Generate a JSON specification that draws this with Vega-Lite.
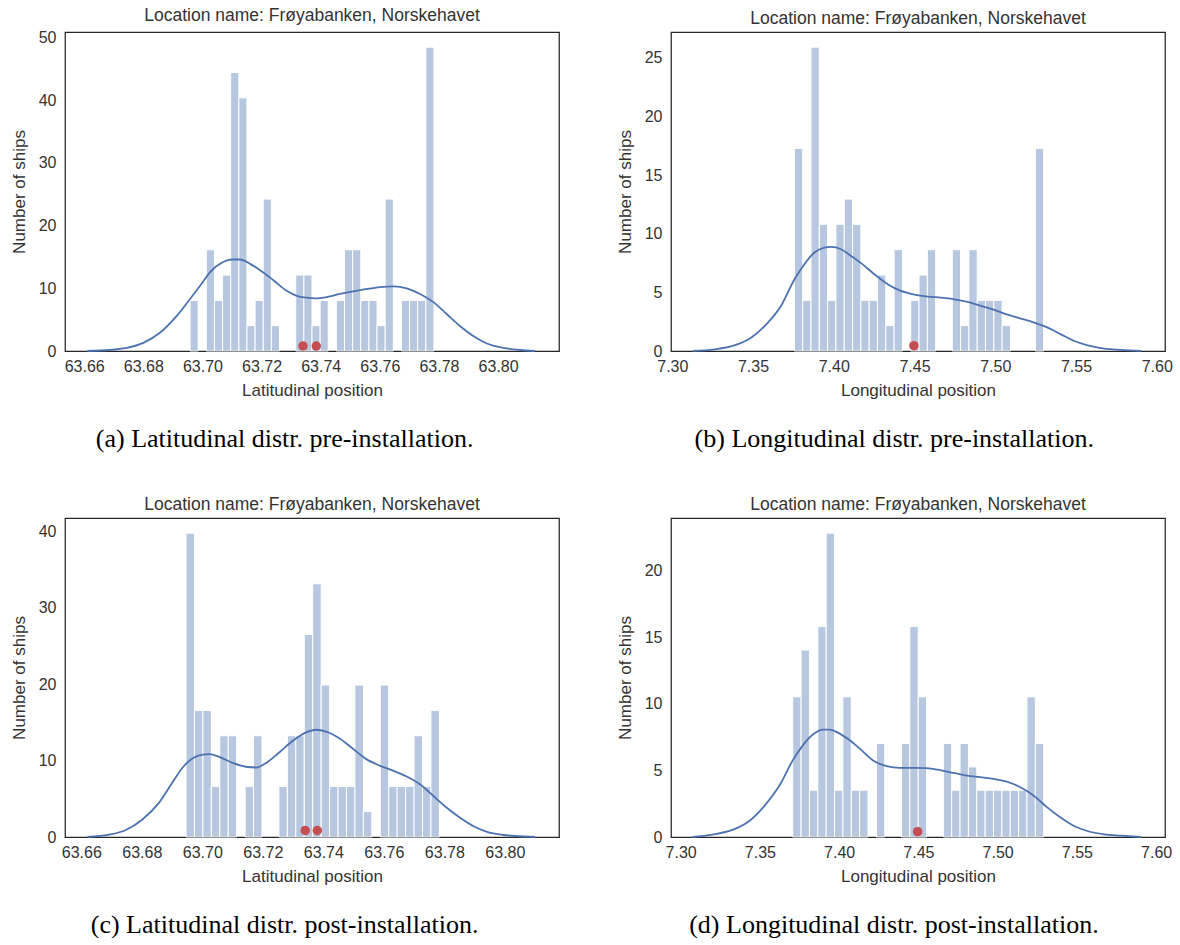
{
  "$schema": "https://vega.github.io/schema/vega-lite/v6.json",
  "background": "white",
  "padding": {"left": 9, "top": 6, "right": 5, "bottom": 5},
  "config": {
    "font": "Liberation Sans",
    "view": {"stroke": "#262626", "strokeWidth": 1.25},
    "axis": {"grid": false, "ticks": false, "domain": false, "labelFontSize": 16, "titleFontSize": 17, "labelColor": "#333333", "titleColor": "#333333", "titleFontWeight": "normal", "labelPadding": 7, "titlePadding": 8, "labelOverlap": false, "labelFlush": false, "labelBound": false, "labelFont": "Liberation Sans", "titleFont": "Liberation Sans"},
    "axisY": {"labelPadding": 9, "titlePadding": 10},
    "title": {"fontSize": 17.5, "fontWeight": "normal", "color": "#333333", "font": "Liberation Sans", "offset": 5}
  },
  "datasets": {
    "b1": [
      {"x0": 63.6958, "x1": 63.69855, "d": 8.08},
      {"x0": 63.7013, "x1": 63.70405, "d": 16.16},
      {"x0": 63.70405, "x1": 63.7068, "d": 8.08},
      {"x0": 63.7068, "x1": 63.70955, "d": 12.12},
      {"x0": 63.70955, "x1": 63.7123, "d": 44.44},
      {"x0": 63.7123, "x1": 63.71505, "d": 40.4},
      {"x0": 63.71505, "x1": 63.7178, "d": 4.04},
      {"x0": 63.7178, "x1": 63.72055, "d": 8.08},
      {"x0": 63.72055, "x1": 63.7233, "d": 24.24},
      {"x0": 63.7233, "x1": 63.72605, "d": 4.04},
      {"x0": 63.73155, "x1": 63.7343, "d": 12.12},
      {"x0": 63.7343, "x1": 63.73705, "d": 12.12},
      {"x0": 63.73705, "x1": 63.7398, "d": 4.04},
      {"x0": 63.7398, "x1": 63.74255, "d": 8.08},
      {"x0": 63.7453, "x1": 63.74805, "d": 8.08},
      {"x0": 63.74805, "x1": 63.7508, "d": 16.16},
      {"x0": 63.7508, "x1": 63.75355, "d": 16.16},
      {"x0": 63.75355, "x1": 63.7563, "d": 8.08},
      {"x0": 63.7563, "x1": 63.75905, "d": 8.08},
      {"x0": 63.75905, "x1": 63.7618, "d": 4.04},
      {"x0": 63.7618, "x1": 63.76455, "d": 24.24},
      {"x0": 63.7673, "x1": 63.77005, "d": 8.08},
      {"x0": 63.77005, "x1": 63.7728, "d": 8.08},
      {"x0": 63.7728, "x1": 63.77555, "d": 8.08},
      {"x0": 63.77555, "x1": 63.7783, "d": 48.48}
    ],
    "k1": [
      {"x": 63.6610, "d": 0}, {"x": 63.6687, "d": 0.16}, {"x": 63.6743, "d": 0.5}, {"x": 63.6800, "d": 1.3},
      {"x": 63.6856, "d": 2.9}, {"x": 63.6913, "d": 5.6}, {"x": 63.6958, "d": 8.3}, {"x": 63.6992, "d": 10.4},
      {"x": 63.7026, "d": 12.6}, {"x": 63.7070, "d": 14.2}, {"x": 63.7099, "d": 14.6}, {"x": 63.7127, "d": 14.6},
      {"x": 63.7161, "d": 13.9}, {"x": 63.7195, "d": 12.9}, {"x": 63.7240, "d": 11.3}, {"x": 63.7285, "d": 9.6},
      {"x": 63.7319, "d": 8.8}, {"x": 63.7353, "d": 8.5}, {"x": 63.7386, "d": 8.4}, {"x": 63.7420, "d": 8.6},
      {"x": 63.7465, "d": 9.1}, {"x": 63.7510, "d": 9.5}, {"x": 63.7556, "d": 9.9}, {"x": 63.7601, "d": 10.2},
      {"x": 63.7646, "d": 10.3}, {"x": 63.7691, "d": 10.0}, {"x": 63.7736, "d": 9.1}, {"x": 63.7781, "d": 7.8},
      {"x": 63.7826, "d": 5.9}, {"x": 63.7871, "d": 4.0}, {"x": 63.7916, "d": 2.4}, {"x": 63.7962, "d": 1.2},
      {"x": 63.8018, "d": 0.5}, {"x": 63.8074, "d": 0.16}, {"x": 63.8125, "d": 0}
    ],
    "p1": [{"x": 63.734, "d": 0.8}, {"x": 63.7385, "d": 0.8}],
    "b2": [
      {"x0": 7.3756, "x1": 7.380746, "d": 17.27},
      {"x0": 7.380746, "x1": 7.385892, "d": 4.32},
      {"x0": 7.385892, "x1": 7.391038, "d": 25.91},
      {"x0": 7.391038, "x1": 7.396184, "d": 10.8},
      {"x0": 7.396184, "x1": 7.40133, "d": 4.32},
      {"x0": 7.40133, "x1": 7.406476, "d": 10.8},
      {"x0": 7.406476, "x1": 7.411622, "d": 12.95},
      {"x0": 7.411622, "x1": 7.416768, "d": 10.8},
      {"x0": 7.416768, "x1": 7.421914, "d": 4.32},
      {"x0": 7.421914, "x1": 7.42706, "d": 4.32},
      {"x0": 7.42706, "x1": 7.432206, "d": 6.48},
      {"x0": 7.432206, "x1": 7.437352, "d": 2.16},
      {"x0": 7.437352, "x1": 7.442498, "d": 8.64},
      {"x0": 7.447644, "x1": 7.45279, "d": 4.32},
      {"x0": 7.45279, "x1": 7.457936, "d": 6.48},
      {"x0": 7.457936, "x1": 7.463082, "d": 8.64},
      {"x0": 7.473374, "x1": 7.47852, "d": 8.64},
      {"x0": 7.47852, "x1": 7.483666, "d": 2.16},
      {"x0": 7.483666, "x1": 7.488812, "d": 8.64},
      {"x0": 7.488812, "x1": 7.493958, "d": 4.32},
      {"x0": 7.493958, "x1": 7.499104, "d": 4.32},
      {"x0": 7.499104, "x1": 7.50425, "d": 4.32},
      {"x0": 7.50425, "x1": 7.509396, "d": 2.16},
      {"x0": 7.524834, "x1": 7.52998, "d": 17.27}
    ],
    "k2": [
      {"x": 7.3126, "d": 0}, {"x": 7.3261, "d": 0.14}, {"x": 7.3384, "d": 0.48}, {"x": 7.3488, "d": 1.14},
      {"x": 7.3591, "d": 2.4}, {"x": 7.3673, "d": 3.84}, {"x": 7.3756, "d": 6.1}, {"x": 7.3818, "d": 7.4},
      {"x": 7.3880, "d": 8.4}, {"x": 7.3942, "d": 8.82}, {"x": 7.3983, "d": 8.88}, {"x": 7.4045, "d": 8.68},
      {"x": 7.4107, "d": 8.1}, {"x": 7.4169, "d": 7.49}, {"x": 7.4251, "d": 6.55}, {"x": 7.4334, "d": 5.7},
      {"x": 7.4416, "d": 5.12}, {"x": 7.4499, "d": 4.81}, {"x": 7.4582, "d": 4.64}, {"x": 7.4664, "d": 4.55},
      {"x": 7.4747, "d": 4.41}, {"x": 7.4829, "d": 4.18}, {"x": 7.4912, "d": 3.84}, {"x": 7.4994, "d": 3.5},
      {"x": 7.5077, "d": 3.1}, {"x": 7.5159, "d": 2.76}, {"x": 7.5242, "d": 2.42}, {"x": 7.5325, "d": 1.99},
      {"x": 7.5407, "d": 1.42}, {"x": 7.5490, "d": 0.85}, {"x": 7.5572, "d": 0.48}, {"x": 7.5675, "d": 0.2},
      {"x": 7.5779, "d": 0.09}, {"x": 7.5902, "d": 0}
    ],
    "p2": [{"x": 7.4496, "d": 0.45}],
    "b3": [
      {"x0": 63.6946, "x1": 63.697392, "d": 39.79},
      {"x0": 63.697392, "x1": 63.700184, "d": 16.58},
      {"x0": 63.700184, "x1": 63.702976, "d": 16.58},
      {"x0": 63.702976, "x1": 63.705768, "d": 6.63},
      {"x0": 63.705768, "x1": 63.70856, "d": 13.26},
      {"x0": 63.70856, "x1": 63.711352, "d": 13.26},
      {"x0": 63.714144, "x1": 63.716936, "d": 6.63},
      {"x0": 63.716936, "x1": 63.719728, "d": 13.26},
      {"x0": 63.725312, "x1": 63.728104, "d": 6.63},
      {"x0": 63.728104, "x1": 63.730896, "d": 13.26},
      {"x0": 63.730896, "x1": 63.733688, "d": 13.26},
      {"x0": 63.733688, "x1": 63.73648, "d": 26.53},
      {"x0": 63.73648, "x1": 63.739272, "d": 33.16},
      {"x0": 63.739272, "x1": 63.742064, "d": 19.9},
      {"x0": 63.742064, "x1": 63.744856, "d": 6.63},
      {"x0": 63.744856, "x1": 63.747648, "d": 6.63},
      {"x0": 63.747648, "x1": 63.75044, "d": 6.63},
      {"x0": 63.75044, "x1": 63.753232, "d": 19.9},
      {"x0": 63.753232, "x1": 63.756024, "d": 3.32},
      {"x0": 63.758816, "x1": 63.761608, "d": 19.9},
      {"x0": 63.761608, "x1": 63.7644, "d": 6.63},
      {"x0": 63.7644, "x1": 63.767192, "d": 6.63},
      {"x0": 63.767192, "x1": 63.769984, "d": 6.63},
      {"x0": 63.769984, "x1": 63.772776, "d": 13.26},
      {"x0": 63.772776, "x1": 63.775568, "d": 6.63},
      {"x0": 63.775568, "x1": 63.77836, "d": 16.58}
    ],
    "k3": [
      {"x": 63.6620, "d": 0}, {"x": 63.6692, "d": 0.3}, {"x": 63.6747, "d": 0.92}, {"x": 63.6802, "d": 2.3},
      {"x": 63.6857, "d": 4.5}, {"x": 63.6902, "d": 7.2}, {"x": 63.6935, "d": 9.1}, {"x": 63.6968, "d": 10.3},
      {"x": 63.7001, "d": 10.8}, {"x": 63.7023, "d": 10.85}, {"x": 63.7056, "d": 10.5}, {"x": 63.7100, "d": 9.7},
      {"x": 63.7144, "d": 9.2}, {"x": 63.7178, "d": 9.1}, {"x": 63.7211, "d": 9.7}, {"x": 63.7255, "d": 11.1},
      {"x": 63.7299, "d": 12.6}, {"x": 63.7343, "d": 13.7}, {"x": 63.7376, "d": 14.05}, {"x": 63.7409, "d": 13.8},
      {"x": 63.7454, "d": 12.9}, {"x": 63.7498, "d": 11.55}, {"x": 63.7542, "d": 10.2}, {"x": 63.7586, "d": 9.35},
      {"x": 63.7630, "d": 8.7}, {"x": 63.7674, "d": 7.95}, {"x": 63.7719, "d": 6.9}, {"x": 63.7763, "d": 5.4},
      {"x": 63.7807, "d": 3.86}, {"x": 63.7851, "d": 2.55}, {"x": 63.7895, "d": 1.45}, {"x": 63.7939, "d": 0.7},
      {"x": 63.7995, "d": 0.26}, {"x": 63.8050, "d": 0.1}, {"x": 63.8100, "d": 0}
    ],
    "p3": [{"x": 63.734, "d": 0.85}, {"x": 63.738, "d": 0.85}],
    "b4": [
      {"x0": 7.3707, "x1": 7.375979, "d": 10.52},
      {"x0": 7.375979, "x1": 7.381258, "d": 14.03},
      {"x0": 7.381258, "x1": 7.386537, "d": 3.51},
      {"x0": 7.386537, "x1": 7.391816, "d": 15.79},
      {"x0": 7.391816, "x1": 7.397095, "d": 22.8},
      {"x0": 7.397095, "x1": 7.402374, "d": 3.51},
      {"x0": 7.402374, "x1": 7.407653, "d": 10.52},
      {"x0": 7.407653, "x1": 7.412932, "d": 3.51},
      {"x0": 7.412932, "x1": 7.418211, "d": 3.51},
      {"x0": 7.42349, "x1": 7.428769, "d": 7.02},
      {"x0": 7.439327, "x1": 7.444606, "d": 7.02},
      {"x0": 7.444606, "x1": 7.449885, "d": 15.79},
      {"x0": 7.449885, "x1": 7.455164, "d": 10.52},
      {"x0": 7.465722, "x1": 7.471001, "d": 7.02},
      {"x0": 7.471001, "x1": 7.47628, "d": 3.51},
      {"x0": 7.47628, "x1": 7.481559, "d": 7.02},
      {"x0": 7.481559, "x1": 7.486838, "d": 5.26},
      {"x0": 7.486838, "x1": 7.492117, "d": 3.51},
      {"x0": 7.492117, "x1": 7.497396, "d": 3.51},
      {"x0": 7.497396, "x1": 7.502675, "d": 3.51},
      {"x0": 7.502675, "x1": 7.507954, "d": 3.51},
      {"x0": 7.507954, "x1": 7.513233, "d": 3.51},
      {"x0": 7.513233, "x1": 7.518512, "d": 3.51},
      {"x0": 7.518512, "x1": 7.523791, "d": 10.52},
      {"x0": 7.523791, "x1": 7.52907, "d": 7.02}
    ],
    "k4": [
      {"x": 7.3074, "d": 0}, {"x": 7.3200, "d": 0.18}, {"x": 7.3327, "d": 0.53}, {"x": 7.3433, "d": 1.2},
      {"x": 7.3538, "d": 2.47}, {"x": 7.3623, "d": 3.86}, {"x": 7.3707, "d": 5.75}, {"x": 7.3771, "d": 6.88},
      {"x": 7.3834, "d": 7.69}, {"x": 7.3898, "d": 8.06}, {"x": 7.3940, "d": 8.06}, {"x": 7.4003, "d": 7.76},
      {"x": 7.4067, "d": 7.26}, {"x": 7.4130, "d": 6.63}, {"x": 7.4214, "d": 5.75}, {"x": 7.4299, "d": 5.32},
      {"x": 7.4383, "d": 5.19}, {"x": 7.4468, "d": 5.19}, {"x": 7.4552, "d": 5.17}, {"x": 7.4637, "d": 5.02},
      {"x": 7.4721, "d": 4.81}, {"x": 7.4806, "d": 4.61}, {"x": 7.4890, "d": 4.49}, {"x": 7.4975, "d": 4.36},
      {"x": 7.5059, "d": 4.16}, {"x": 7.5144, "d": 3.73}, {"x": 7.5228, "d": 3.1}, {"x": 7.5313, "d": 2.22},
      {"x": 7.5397, "d": 1.46}, {"x": 7.5482, "d": 0.83}, {"x": 7.5566, "d": 0.45}, {"x": 7.5672, "d": 0.2},
      {"x": 7.5778, "d": 0.1}, {"x": 7.5904, "d": 0}
    ],
    "p4": [{"x": 7.4495, "d": 0.4}]
  },
  "spacing": 42,
  "vconcat": [
    {
      "spacing": 55,
      "hconcat": [
        {
          "title": {"text": "(a) Latitudinal distr. pre-installation.", "orient": "bottom", "anchor": "middle", "font": "Liberation Serif", "fontSize": 26, "color": "#000000", "offset": 27},
          "vconcat": [
            {
              "title": "Location name: Frøyabanken, Norskehavet",
              "width": 494, "height": 319,
              "layer": [
                {"data": {"name": "b1"}, "mark": {"type": "rect", "fill": "#4c72b0", "fillOpacity": 0.4, "stroke": "white", "strokeWidth": 1},
                 "encoding": {
                   "x": {"field": "x0", "type": "quantitative", "scale": {"domain": [63.6535, 63.8206], "nice": false, "zero": false}, "axis": {"title": "Latitudinal position", "values": [63.66, 63.68, 63.70, 63.72, 63.74, 63.76, 63.78, 63.80], "format": ".2f"}},
                   "x2": {"field": "x1"},
                   "y": {"field": "d", "type": "quantitative", "scale": {"domain": [0, 50.9], "nice": false}, "axis": {"title": "Number of ships", "values": [0, 10, 20, 30, 40, 50]}},
                   "y2": {"datum": 0}
                 }},
                {"data": {"name": "k1"}, "mark": {"type": "line", "color": "#4c72b0", "strokeWidth": 1.8, "interpolate": "monotone"},
                 "encoding": {"x": {"field": "x", "type": "quantitative"}, "y": {"field": "d", "type": "quantitative"}}},
                {"data": {"name": "p1"}, "mark": {"type": "circle", "color": "#c44e52", "opacity": 1, "size": 90},
                 "encoding": {"x": {"field": "x", "type": "quantitative"}, "y": {"field": "d", "type": "quantitative"}}}
              ]
            }
          ]
        },
        {
          "title": {"text": "(b) Longitudinal distr. pre-installation.", "orient": "bottom", "anchor": "middle", "font": "Liberation Serif", "fontSize": 26, "color": "#000000", "offset": 27},
          "vconcat": [
            {
              "title": "Location name: Frøyabanken, Norskehavet",
              "width": 494, "height": 319,
              "layer": [
                {"data": {"name": "b2"}, "mark": {"type": "rect", "fill": "#4c72b0", "fillOpacity": 0.4, "stroke": "white", "strokeWidth": 1},
                 "encoding": {
                   "x": {"field": "x0", "type": "quantitative", "scale": {"domain": [7.2992, 7.6051], "nice": false, "zero": false}, "axis": {"title": "Longitudinal position", "values": [7.30, 7.35, 7.40, 7.45, 7.50, 7.55, 7.60], "format": ".2f"}},
                   "x2": {"field": "x1"},
                   "y": {"field": "d", "type": "quantitative", "scale": {"domain": [0, 27.2], "nice": false}, "axis": {"title": "Number of ships", "values": [0, 5, 10, 15, 20, 25]}},
                   "y2": {"datum": 0}
                 }},
                {"data": {"name": "k2"}, "mark": {"type": "line", "color": "#4c72b0", "strokeWidth": 1.8, "interpolate": "monotone"},
                 "encoding": {"x": {"field": "x", "type": "quantitative"}, "y": {"field": "d", "type": "quantitative"}}},
                {"data": {"name": "p2"}, "mark": {"type": "circle", "color": "#c44e52", "opacity": 1, "size": 90},
                 "encoding": {"x": {"field": "x", "type": "quantitative"}, "y": {"field": "d", "type": "quantitative"}}}
              ]
            }
          ]
        }
      ]
    },
    {
      "spacing": 55,
      "hconcat": [
        {
          "title": {"text": "(c) Latitudinal distr. post-installation.", "orient": "bottom", "anchor": "middle", "font": "Liberation Serif", "fontSize": 26, "color": "#000000", "offset": 27},
          "vconcat": [
            {
              "title": "Location name: Frøyabanken, Norskehavet",
              "width": 494, "height": 319,
              "layer": [
                {"data": {"name": "b3"}, "mark": {"type": "rect", "fill": "#4c72b0", "fillOpacity": 0.4, "stroke": "white", "strokeWidth": 1},
                 "encoding": {
                   "x": {"field": "x0", "type": "quantitative", "scale": {"domain": [63.6546, 63.8179], "nice": false, "zero": false}, "axis": {"title": "Latitudinal position", "values": [63.66, 63.68, 63.70, 63.72, 63.74, 63.76, 63.78, 63.80], "format": ".2f"}},
                   "x2": {"field": "x1"},
                   "y": {"field": "d", "type": "quantitative", "scale": {"domain": [0, 41.78], "nice": false}, "axis": {"title": "Number of ships", "values": [0, 5, 10, 15, 20, 25, 30, 35, 40]}},
                   "y2": {"datum": 0}
                 }},
                {"data": {"name": "k3"}, "mark": {"type": "line", "color": "#4c72b0", "strokeWidth": 1.8, "interpolate": "monotone"},
                 "encoding": {"x": {"field": "x", "type": "quantitative"}, "y": {"field": "d", "type": "quantitative"}}},
                {"data": {"name": "p3"}, "mark": {"type": "circle", "color": "#c44e52", "opacity": 1, "size": 90},
                 "encoding": {"x": {"field": "x", "type": "quantitative"}, "y": {"field": "d", "type": "quantitative"}}}
              ]
            }
          ]
        },
        {
          "title": {"text": "(d) Longitudinal distr. post-installation.", "orient": "bottom", "anchor": "middle", "font": "Liberation Serif", "fontSize": 26, "color": "#000000", "offset": 27},
          "vconcat": [
            {
              "title": "Location name: Frøyabanken, Norskehavet",
              "width": 494, "height": 319,
              "layer": [
                {"data": {"name": "b4"}, "mark": {"type": "rect", "fill": "#4c72b0", "fillOpacity": 0.4, "stroke": "white", "strokeWidth": 1},
                 "encoding": {
                   "x": {"field": "x0", "type": "quantitative", "scale": {"domain": [7.2939, 7.6056], "nice": false, "zero": false}, "axis": {"title": "Longitudinal position", "values": [7.30, 7.35, 7.40, 7.45, 7.50, 7.55, 7.60], "format": ".2f"}},
                   "x2": {"field": "x1"},
                   "y": {"field": "d", "type": "quantitative", "scale": {"domain": [0, 23.94], "nice": false}, "axis": {"title": "Number of ships", "values": [0, 5, 10, 15, 20]}},
                   "y2": {"datum": 0}
                 }},
                {"data": {"name": "k4"}, "mark": {"type": "line", "color": "#4c72b0", "strokeWidth": 1.8, "interpolate": "monotone"},
                 "encoding": {"x": {"field": "x", "type": "quantitative"}, "y": {"field": "d", "type": "quantitative"}}},
                {"data": {"name": "p4"}, "mark": {"type": "circle", "color": "#c44e52", "opacity": 1, "size": 90},
                 "encoding": {"x": {"field": "x", "type": "quantitative"}, "y": {"field": "d", "type": "quantitative"}}}
              ]
            }
          ]
        }
      ]
    }
  ]
}
